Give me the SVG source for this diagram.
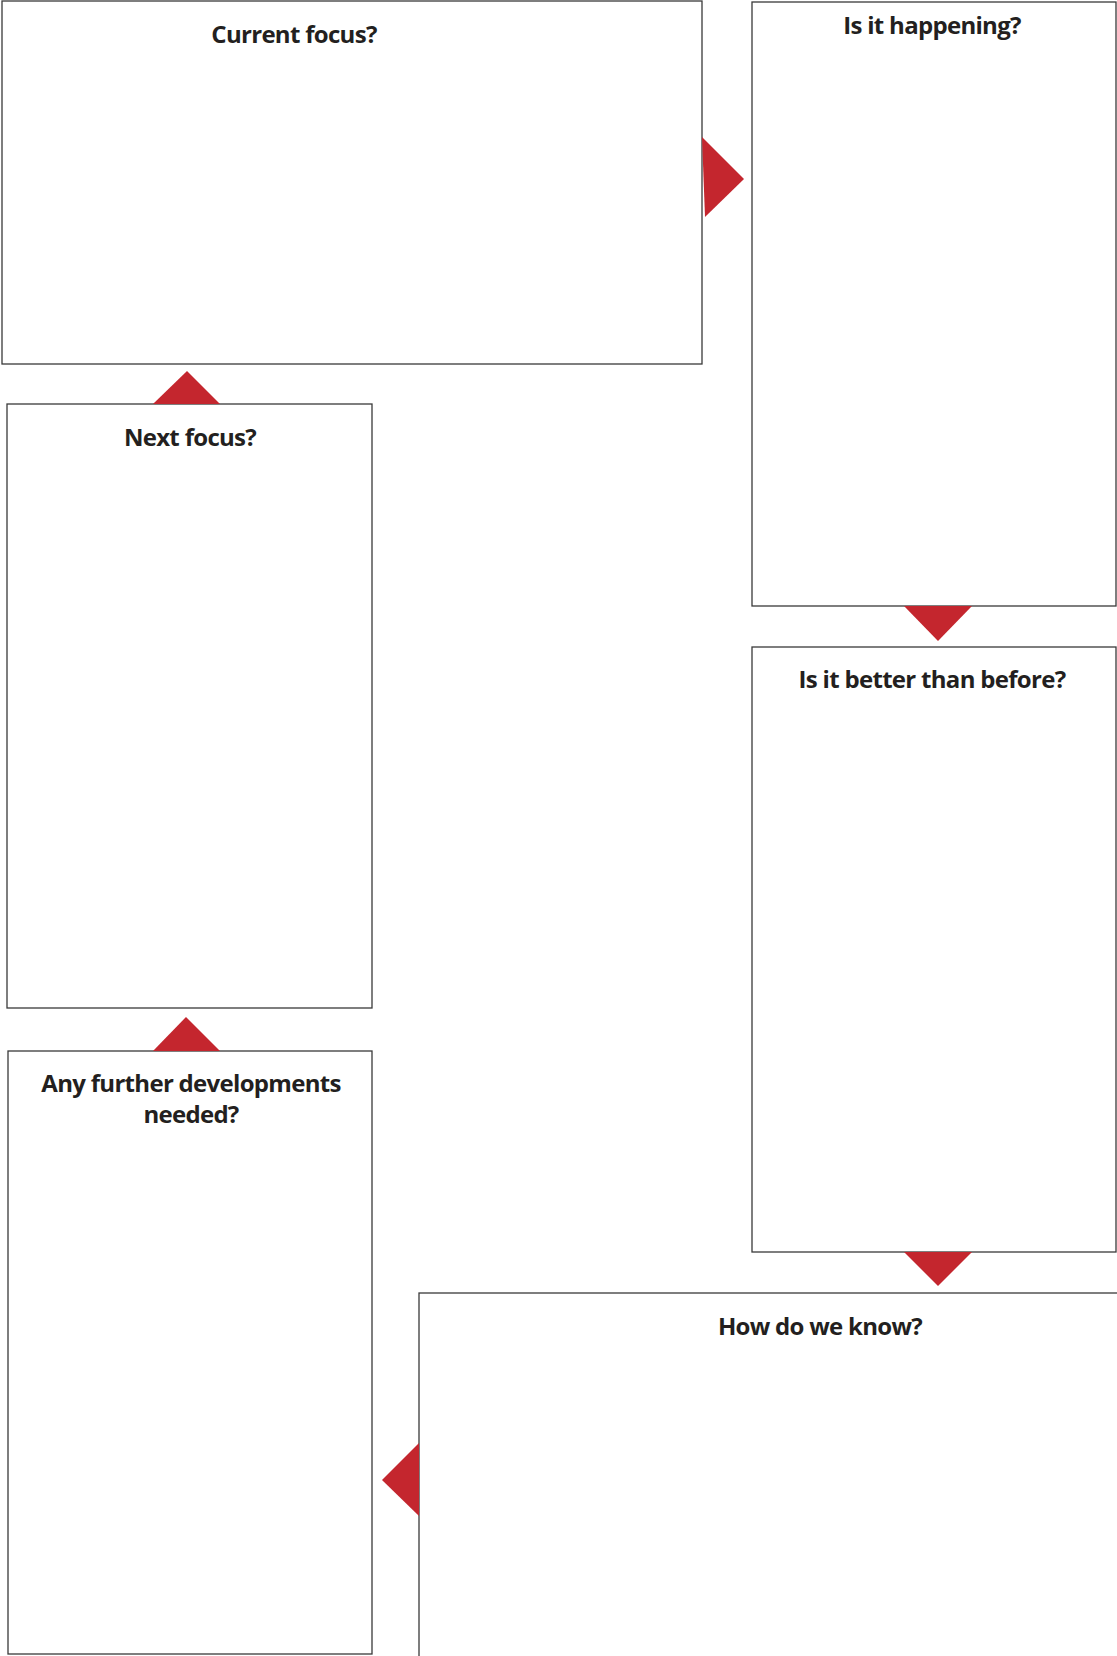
<svg xmlns="http://www.w3.org/2000/svg" width="1117" height="1656" viewBox="0 0 1117 1656">
<style>
.box{fill:#fff;stroke:#3a3a3a;stroke-width:1.3}
.arr{fill:#c4262e;stroke:none}
.t{font-family:"Open Sans","Liberation Sans",sans-serif;font-weight:bold;font-size:24px;letter-spacing:-0.7px;fill:#231f20;text-anchor:middle}
</style>
<rect width="1117" height="1656" fill="#fff"/>
<g id="current-focus"><rect class="box" x="2" y="1" width="700" height="363"/><text class="t" x="294" y="43">Current focus?</text></g>
<g id="is-it-happening"><rect class="box" x="752" y="2" width="364" height="604"/><text class="t" x="932" y="34">Is it happening?</text></g>
<g id="is-it-better"><rect class="box" x="752" y="647" width="364" height="605"/><text class="t" x="932" y="688">Is it better than before?</text></g>
<g id="how-do-we-know"><rect class="box" x="419" y="1293" width="720" height="400"/><text class="t" x="820" y="1335">How do we know?</text></g>
<g id="any-further"><rect class="box" x="8" y="1051" width="364" height="603"/><text class="t" x="191" y="1092">Any further developments</text><text class="t" x="191" y="1123">needed?</text></g>
<g id="next-focus"><rect class="box" x="7" y="404" width="365" height="604"/><text class="t" x="190" y="446">Next focus?</text></g>
<g id="connectors">
<polygon class="arr" points="702,137 744,179 705,217"/>
<polygon class="arr" points="904,606 972,606 938,641"/>
<polygon class="arr" points="904,1252 972,1252 938,1286"/>
<polygon class="arr" points="419,1443 382,1480 419,1516"/>
<polygon class="arr" points="153,1051 220,1051 186,1017"/>
<polygon class="arr" points="153,404 220,404 187,371"/>
</g>
</svg>
